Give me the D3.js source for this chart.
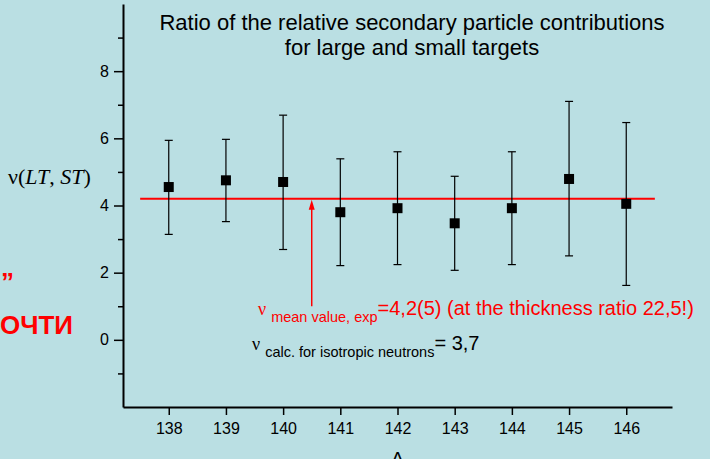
<!DOCTYPE html>
<html>
<head>
<meta charset="utf-8">
<script src="https://cdn.jsdelivr.net/npm/d3@7"></script>
<style>
  body { margin: 0; background: #badfe3; }
  svg { display: block; }
</style>
</head>
<body>
<svg id="chart" width="710" height="459"></svg>
<script>
// mass numbers and measured ratio nu(LT, ST)
const massNumbers = [138, 139, 140, 141, 142, 143, 144, 145, 146];
const ratioValues = [4.55, 4.75, 4.70, 3.80, 3.92, 3.47, 3.92, 4.79, 4.05];
const errUpper    = [5.94, 5.97, 6.69, 5.39, 5.60, 4.87, 5.60, 7.10, 6.47];
const errLower    = [3.14, 3.52, 2.69, 2.21, 2.24, 2.07, 2.24, 2.50, 1.62];

const yMajorTicks = [0, 2, 4, 6, 8];
const yMinorTicks = [-1, 1, 3, 5, 7, 9];

const meanValue = 4.2;
const meanSpan = [137.5, 146.5];
const arrowA = 140.5;
const arrowFrom = 1.0;

const titleLines = ["Ratio of the relative secondary particle contributions", "for large and small targets"];

let svg = d3.select("#chart");
let textColor = "#000000";
let redColor = "#ff0000";
let bgColor = "#badfe3";

svg.append("rect").attr("width", 710).attr("height", 459).attr("fill", bgColor);

let x = d3.scaleLinear().domain([137.2, 146.8]).range([123, 672]);
let y = d3.scaleLinear().domain([-2, 10]).range([407, 4]);

let data = massNumbers.map(function(a, i) {
  return { A: a, v: ratioValues[i], hi: errUpper[i], lo: errLower[i] };
});

// y axis, minor ticks first
svg.append("g")
  .attr("transform", "translate(" + x.range()[0] + ",0)")
  .call(d3.axisLeft(y).tickValues(yMinorTicks).tickSize(5).tickSizeOuter(0).tickFormat(""))
  .call(g => g.select(".domain").remove())
  .selectAll("line").attr("stroke-width", 1.5);

let yAxis = svg.append("g")
  .attr("transform", "translate(" + x.range()[0] + ",0)")
  .call(d3.axisLeft(y).tickValues(yMajorTicks).tickSize(9).tickSizeOuter(0).tickPadding(5));
yAxis.select(".domain").attr("stroke-width", 2);
yAxis.selectAll("line").attr("stroke-width", 1.5);
yAxis.selectAll("text")
  .style("font-family", "Arial, 'Liberation Sans', sans-serif")
  .style("font-size", "16px")
  .attr("fill", textColor);

// x axis
let xAxis = svg.append("g")
  .attr("transform", "translate(0," + y.range()[0] + ")")
  .call(d3.axisBottom(x).tickValues(massNumbers).tickSize(8).tickSizeOuter(0).tickPadding(8).tickFormat(d3.format("d")));
xAxis.select(".domain").attr("stroke-width", 2);
xAxis.selectAll("line").attr("stroke-width", 1.5);
xAxis.selectAll("text")
  .style("font-family", "Arial, 'Liberation Sans', sans-serif")
  .style("font-size", "16px")
  .attr("fill", textColor);

// axis titles
svg.append("text")
  .attr("x", x(142))
  .attr("y", 465)
  .attr("text-anchor", "middle")
  .style("font-family", "Arial, 'Liberation Sans', sans-serif")
  .style("font-size", "19px")
  .text("A");

let yLabel = svg.append("text")
  .attr("x", 8)
  .attr("y", 184)
  .style("font-family", "'Times New Roman', 'Liberation Serif', serif")
  .style("font-size", "22px");
yLabel.append("tspan").text("\u03bd(");
yLabel.append("tspan").style("font-style", "italic").text("LT");
yLabel.append("tspan").text(", ");
yLabel.append("tspan").style("font-style", "italic").text("ST");
yLabel.append("tspan").text(")");

// title
svg.selectAll(".title")
  .data(titleLines)
  .enter()
  .append("text")
  .attr("class", "title")
  .attr("x", 412)
  .attr("y", (d, i) => 30 + i * 25)
  .attr("text-anchor", "middle")
  .style("font-family", "Arial, 'Liberation Sans', sans-serif")
  .style("font-size", "22px")
  .text(d => d);

// mean value line
svg.append("line")
  .attr("x1", x(meanSpan[0]))
  .attr("x2", x(meanSpan[1]))
  .attr("y1", y(meanValue))
  .attr("y2", y(meanValue))
  .attr("stroke", redColor)
  .attr("stroke-width", 2);

// error bars
let bars = svg.selectAll(".err")
  .data(data)
  .enter()
  .append("g")
  .attr("class", "err")
  .attr("stroke", "#000")
  .attr("stroke-width", 1.2);
bars.append("line")
  .attr("x1", d => x(d.A)).attr("x2", d => x(d.A))
  .attr("y1", d => y(d.hi)).attr("y2", d => y(d.lo));
bars.append("line")
  .attr("x1", d => x(d.A) - 4).attr("x2", d => x(d.A) + 4)
  .attr("y1", d => y(d.hi)).attr("y2", d => y(d.hi));
bars.append("line")
  .attr("x1", d => x(d.A) - 4).attr("x2", d => x(d.A) + 4)
  .attr("y1", d => y(d.lo)).attr("y2", d => y(d.lo));

// square markers
svg.selectAll(".pt")
  .data(data)
  .enter()
  .append("rect")
  .attr("class", "pt")
  .attr("x", d => x(d.A) - 5)
  .attr("y", d => y(d.v) - 5)
  .attr("width", 10)
  .attr("height", 10)
  .attr("fill", "#000");

// red arrow pointing to the mean line
svg.append("line")
  .attr("x1", x(arrowA)).attr("x2", x(arrowA))
  .attr("y1", y(arrowFrom)).attr("y2", y(meanValue) + 8)
  .attr("stroke", redColor)
  .attr("stroke-width", 1.5);
svg.append("path")
  .attr("d", "M" + x(arrowA) + "," + (y(meanValue) + 1) +
    " L" + (x(arrowA) - 3) + "," + (y(meanValue) + 11) +
    " L" + (x(arrowA) + 3) + "," + (y(meanValue) + 11) + " Z")
  .attr("fill", redColor);

// annotations
let redNote = svg.append("text")
  .attr("x", 258)
  .attr("y", 315)
  .attr("fill", redColor)
  .style("font-family", "Arial, 'Liberation Sans', sans-serif")
  .style("font-size", "20px");
redNote.append("tspan").style("font-family", "'Times New Roman', 'Liberation Serif', serif").style("font-size", "18px").text("\u03bd");
redNote.append("tspan").attr("dx", 5).attr("dy", 7).style("font-size", "14.5px").text("mean value, exp");
redNote.append("tspan").attr("dy", -7).text("=4,2(5) (at the thickness ratio 22,5!)");

let blackNote = svg.append("text")
  .attr("x", 252)
  .attr("y", 350)
  .attr("fill", textColor)
  .style("font-family", "Arial, 'Liberation Sans', sans-serif")
  .style("font-size", "20px");
blackNote.append("tspan").style("font-family", "'Times New Roman', 'Liberation Serif', serif").style("font-size", "18px").text("\u03bd");
blackNote.append("tspan").attr("dx", 5).attr("dy", 7).style("font-size", "14.5px").text("calc. for isotropic neutrons");
blackNote.append("tspan").attr("dy", -7).text("= 3,7");

// red slide text at the left edge (partly visible)
svg.append("text")
  .attr("x", 1).attr("y", 291)
  .attr("fill", redColor)
  .style("font-family", "Arial, 'Liberation Sans', sans-serif")
  .style("font-size", "26px").style("font-weight", "bold")
  .text("\u201d");
svg.append("text")
  .attr("x", 0).attr("y", 334)
  .attr("fill", redColor)
  .style("font-family", "Arial, 'Liberation Sans', sans-serif")
  .style("font-size", "26px").style("font-weight", "bold")
  .text("ОЧТИ");
</script>
</body>
</html>
